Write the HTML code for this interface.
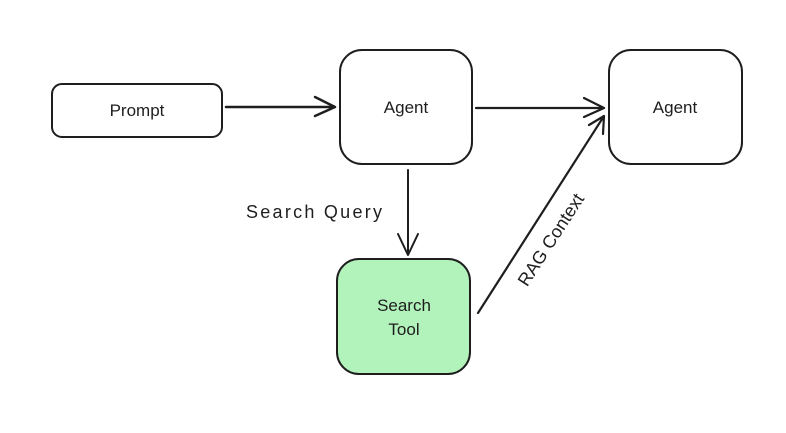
<!DOCTYPE html>
<html><head><style>
body{margin:0;background:#fff;width:786px;height:428px;overflow:hidden}
svg text{font-family:"Liberation Sans",sans-serif;font-size:17px;fill:#1e1e1e}
</style></head><body>
<svg width="786" height="428" viewBox="0 0 786 428">
<g fill="none" stroke="#1e1e1e" stroke-width="2" stroke-linecap="round" stroke-linejoin="round">
<rect x="52" y="84" width="170" height="53" rx="10" fill="#fff"/>
<rect x="340" y="50" width="132" height="114" rx="22" fill="#fff"/>
<rect x="609" y="50" width="133" height="114" rx="22" fill="#fff"/>
<rect x="337" y="259" width="133" height="115" rx="22" fill="#b2f2bb"/>
<path d="M226 107 L335 107 M315 97 L335 107 L315 116" stroke-width="2.5"/>
<path d="M476 108 L604 108 M584 98 L604 108 L584 117" stroke-width="2.2"/>
<path d="M408 170 L408 255 M398 234 L408 255 L418 234"/>
<path d="M478 313 L604 116 M589 125 L604 116 L603 134" stroke-width="2.2"/>
</g>
<text x="137" y="116" text-anchor="middle">Prompt</text>
<text x="406" y="113" text-anchor="middle">Agent</text>
<text x="675" y="113" text-anchor="middle">Agent</text>
<text x="404" y="311" text-anchor="middle">Search</text>
<text x="404" y="335" text-anchor="middle">Tool</text>
<text x="314" y="218" text-anchor="middle" style="font-size:18px" textLength="136">Search Query</text>
<text x="0" y="0" text-anchor="middle" style="font-size:18px" transform="translate(556,243) rotate(-57)">RAG Context</text>
</svg>
</body></html>
